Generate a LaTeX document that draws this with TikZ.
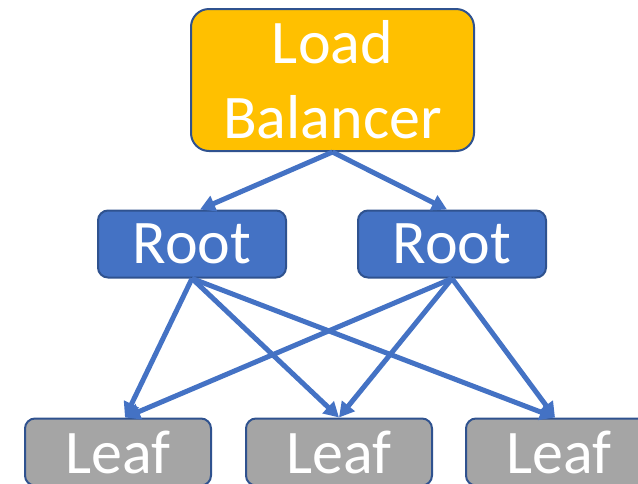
\documentclass[tikz,border=0pt]{standalone}
\usepackage{fontspec}
\setmainfont{Carlito}
\usepackage{tikz}
\usetikzlibrary{arrows.meta}
\usetikzlibrary{positioning}
\definecolor{lbfill}{HTML}{FFC000}
\definecolor{rootblue}{HTML}{4472C4}
\definecolor{leafgray}{HTML}{A5A5A5}
\definecolor{edgeblue}{HTML}{2F528F}

\begin{document}
\begin{tikzpicture}[x=1pt,y=-1pt]
\tikzstyle{box}=[draw=edgeblue,line width=2pt,text=white,inner sep=0pt,font=\fontsize{62}{75}\selectfont]
\tikzstyle{balancer}=[box,fill=lbfill,rounded corners=18pt,minimum width=283pt,minimum height=142pt,align=center]
\tikzstyle{root}=[box,fill=rootblue,rounded corners=10pt,minimum width=188pt,minimum height=67pt]
\tikzstyle{leaf}=[box,fill=leafgray,rounded corners=10pt,minimum width=186pt,minimum height=67pt]
\tikzstyle{link}=[draw=rootblue,line width=5pt,-{Triangle[length=15pt,width=16pt]}]
\useasboundingbox (0,0) rectangle (638,483);

\node [balancer] (lb) at (332.5,80) {Load\\Balancer};
\node [root] (r1) at (192,244) {Root};
\node [root] (r2) at (452,244) {Root};
\node [leaf] (l1) at (118,452) {Leaf};
\node [leaf] (l2) at (339,452) {Leaf};
\node [leaf] (l3) at (559,452) {Leaf};

\draw[link] (lb.south) -- ([xshift=8pt]r1.north);
\draw[link] (lb.south) -- ([xshift=-5pt]r2.north);
% every root feeds every leaf
\foreach \r in {r1,r2}
  \foreach \l/\s in {l1/7,l2/0,l3/-4}
    \draw[link] (\r.south) -- ([xshift=\s pt]\l.north);
\end{tikzpicture}
\end{document}
